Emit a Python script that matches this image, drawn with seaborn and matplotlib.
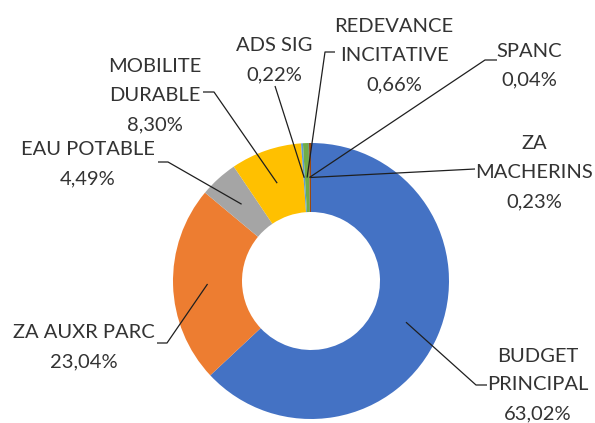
import matplotlib
matplotlib.use("Agg")
import matplotlib.pyplot as plt
import numpy as np
import seaborn as sns

# ---------------- data ----------------
categories = ["BUDGET PRINCIPAL", "ZA AUXR PARC", "EAU POTABLE", "MOBILITE DURABLE",
              "ADS SIG", "REDEVANCE INCITATIVE", "SPANC", "ZA MACHERINS"]
shares = [63.02, 23.04, 4.49, 8.30, 0.22, 0.66, 0.04, 0.23]
value_labels = ["63,02%", "23,04%", "4,49%", "8,30%", "0,22%", "0,66%", "0,04%", "0,23%"]
name_lines = [["BUDGET", "PRINCIPAL"], ["ZA AUXR PARC"], ["EAU POTABLE"],
              ["MOBILITE", "DURABLE"], ["ADS SIG"], ["REDEVANCE", "INCITATIVE"],
              ["SPANC"], ["ZA", "MACHERINS"]]

# ---------------- style / layout ----------------
palette = ["#4472C4", "#ED7D31", "#A5A5A5", "#FFC000",
           "#5B9BD5", "#70AD47", "#264478", "#9E480E"]
W, H = 595, 423
CX, CY, R = 311, 281, 138          # ring centre / radius in pixels
HOLE = 0.5
PITCH = 29                          # px between text lines
CAP = 14                            # cap height in px
TEXT_COLOR = "#333333"

# label block centres (px) and leader elbow path (px), per category
label_layout = {
    "BUDGET PRINCIPAL":     dict(center=(538, 383.5), path=[(476, 385), (487, 385)]),
    "ZA AUXR PARC":         dict(center=(84, 345.5),  path=[(167, 343), (157, 343)]),
    "EAU POTABLE":          dict(center=(87.5, 162.5), path=[(168, 162), (158, 162)]),
    "MOBILITE DURABLE":     dict(center=(155, 94.3),  path=[(214, 92), (203, 92)]),
    "ADS SIG":              dict(center=(274.5, 58.5), path=[(275, 86)]),
    "REDEVANCE INCITATIVE": dict(center=(394, 54),    path=[(325, 52), (335, 52)]),
    "SPANC":                dict(center=(529.5, 64),  path=[(485, 60), (497, 60)]),
    "ZA MACHERINS":         dict(center=(534, 171),   path=[(475, 169)]),
}

sns.set_theme(style="white")
plt.rcParams["font.family"] = ["Lato", "DejaVu Sans"]


def px(x, y):
    return ((x - CX) / R, (CY - y) / R)


fig = plt.figure(figsize=(W / 100, H / 100), dpi=100)
fig.patch.set_facecolor("white")
ax = fig.add_axes([0, 0, 1, 1])

wedges, _ = ax.pie(shares, colors=palette, startangle=90, counterclock=False,
                   radius=1.0,
                   wedgeprops=dict(width=1 - HOLE, linewidth=0))

x0, _ = px(0, 0)
x1, _ = px(W, 0)
_, y1 = px(0, 0)
_, y0 = px(0, H)
ax.set_xlim(x0, x1)
ax.set_ylim(y0, y1)
ax.set_aspect("equal")
ax.axis("off")

for cat, lines, val, w in zip(categories, name_lines, value_labels, wedges):
    lay = label_layout[cat]
    mid = np.deg2rad((w.theta1 + w.theta2) / 2)
    rmid = 1 - (1 - HOLE) / 2
    start = (rmid * np.cos(mid), rmid * np.sin(mid))
    pts = [start] + [px(*p) for p in lay["path"]]
    xs, ys = zip(*pts)
    ax.plot(xs, ys, color="#1f1f1f", lw=0.9, solid_capstyle="butt", zorder=5)

    all_lines = lines + [val]
    n = len(all_lines)
    cx, cy = lay["center"]
    for i, t in enumerate(all_lines):
        ly = cy + (i - (n - 1) / 2) * PITCH
        tx, ty = px(cx, ly + CAP / 2)
        ax.text(tx, ty, t, ha="center", va="baseline", fontsize=14.5,
                color=TEXT_COLOR, zorder=6)

fig.savefig("out.png", dpi=100, facecolor="white")
